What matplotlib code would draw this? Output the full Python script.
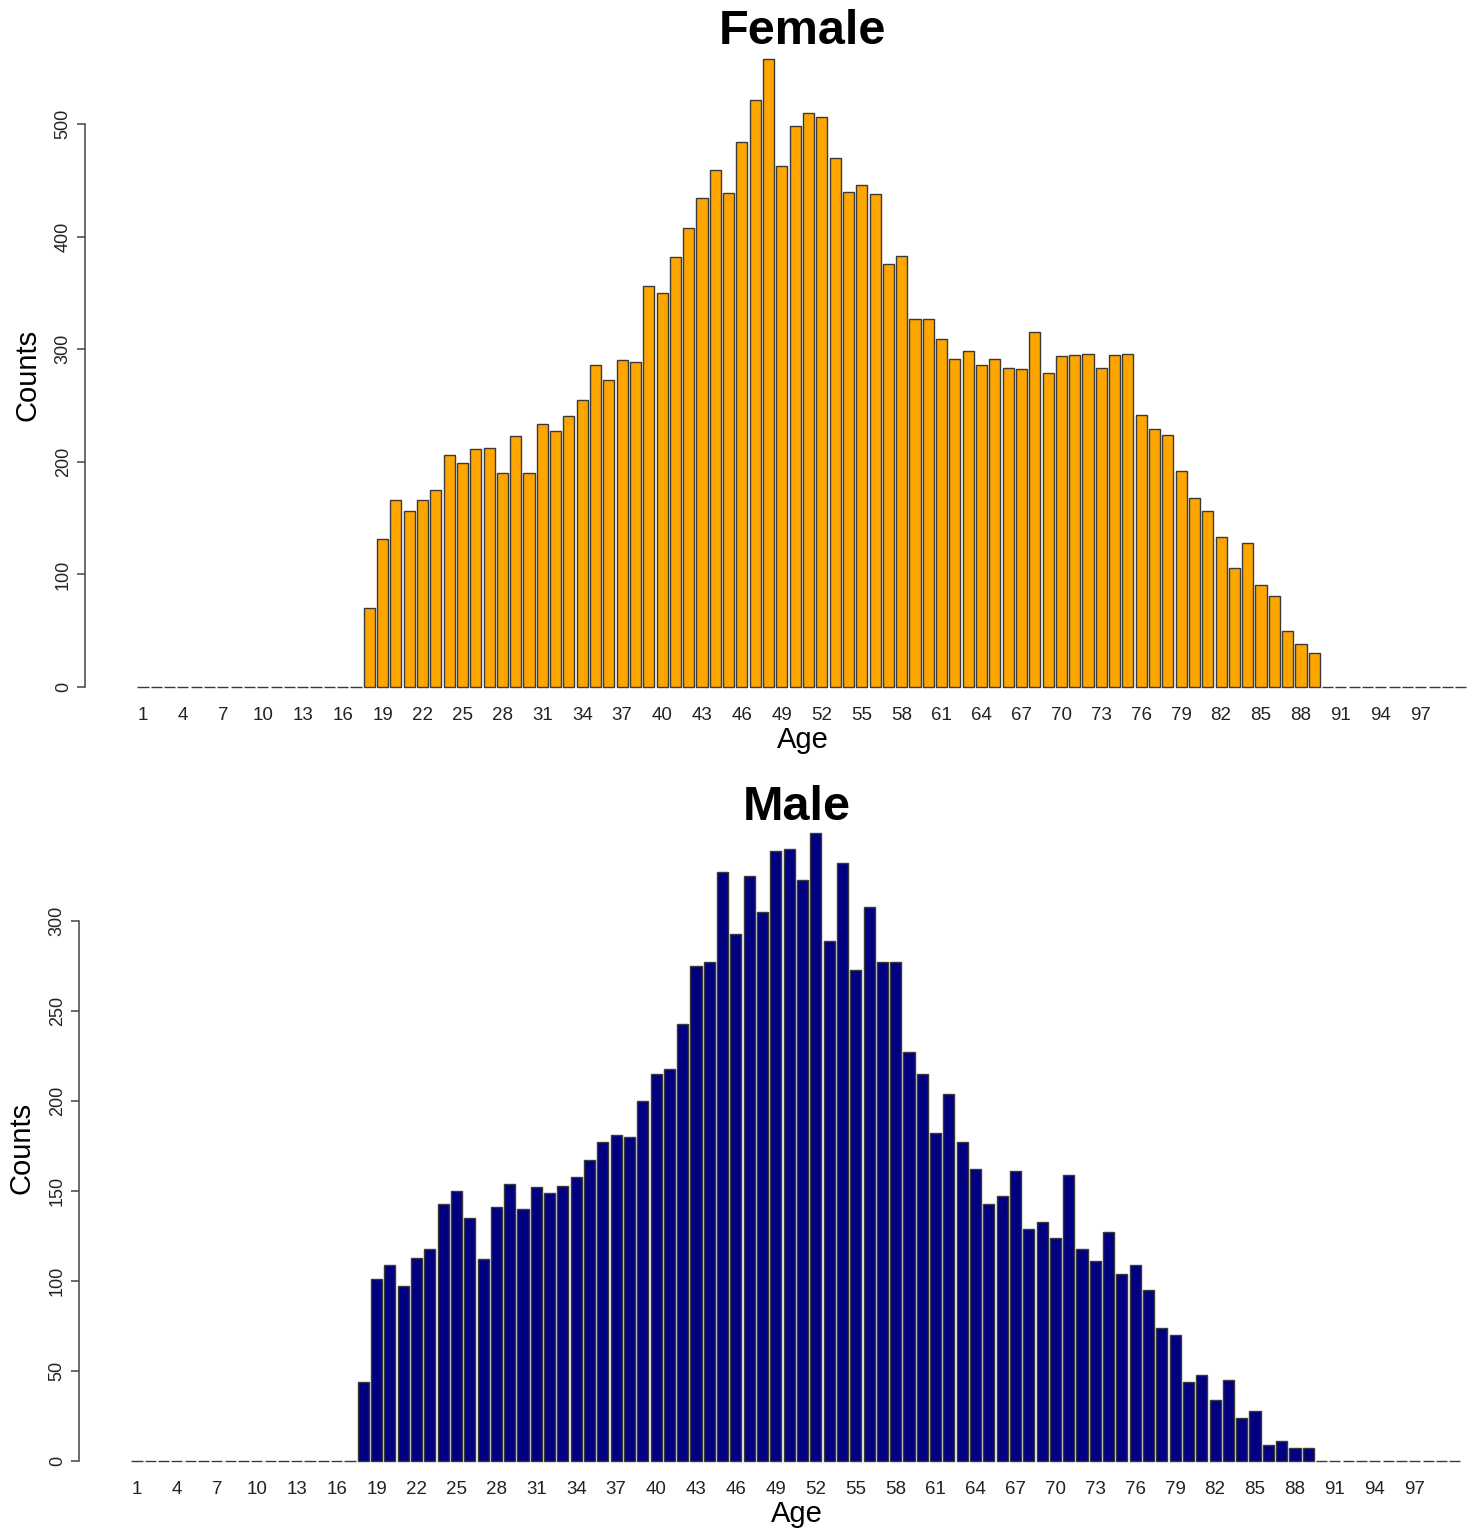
import matplotlib
matplotlib.use("Agg")
import matplotlib.pyplot as plt
import numpy as np

plt.rcParams['font.family'] = ['Liberation Sans', 'DejaVu Sans']

# ---- data ----
ages = list(range(1, 101))
first_age = 18
female_counts = [70, 131, 166, 156, 166, 175, 206, 199, 211, 212,
                 190, 223, 190, 234, 227, 241, 255, 286, 273, 290,
                 289, 356, 350, 382, 408, 434, 459, 439, 484, 521,
                 558, 463, 498, 510, 506, 470, 440, 446, 438, 376,
                 383, 327, 327, 309, 291, 298, 286, 291, 283, 282,
                 315, 279, 294, 295, 296, 283, 295, 296, 242, 229,
                 224, 192, 168, 156, 133, 106, 128, 91, 81, 50,
                 38, 30]
male_counts = [44, 101, 109, 97, 113, 118, 143, 150, 135, 112,
               141, 154, 140, 152, 149, 153, 158, 167, 177, 181,
               180, 200, 215, 218, 243, 275, 277, 327, 293, 325,
               305, 339, 340, 323, 349, 289, 332, 273, 308, 277,
               277, 227, 215, 182, 204, 177, 162, 143, 147, 161,
               129, 133, 124, 159, 118, 111, 127, 104, 109, 95,
               74, 70, 44, 48, 34, 45, 24, 28, 9, 11,
               7, 7]
xtick_ages = list(range(1, 100, 3))
female_yticks = [0, 100, 200, 300, 400, 500]
male_yticks = [0, 50, 100, 150, 200, 250, 300]


def full_series(counts):
    vals = np.zeros(len(ages))
    vals[first_age - 1:first_age - 1 + len(counts)] = counts
    return vals


W, H = 1473, 1532
fig = plt.figure(figsize=(W / 100, H / 100), dpi=100)


def rect(left, top, width, bottom):
    return [left / W, 1 - bottom / H, width / W, (bottom - top) / H]


def panel(r, counts, color, yticks, zero_px, px_per_unit, title, title_off):
    ax = fig.add_axes(r)
    top_px = H * (1 - r[1] - r[3])
    bot_px = H * (1 - r[1])
    ax.set_ylim(-(bot_px - zero_px) / px_per_unit, (zero_px - top_px) / px_per_unit)
    ax.set_xlim(1 - 58 / 13.31, 1 + (r[2] * W - 58) / 13.31)
    ax.bar(ages, full_series(counts), width=1 / 1.2, color=color,
           edgecolor='#3a3a3a', linewidth=1.0)
    for s in ['top', 'right', 'bottom']:
        ax.spines[s].set_visible(False)
    ax.spines['left'].set_bounds(yticks[0], yticks[-1])
    ax.spines['left'].set_color('#444444')
    ax.spines['left'].set_linewidth(1.1)
    ax.set_yticks(yticks)
    ax.set_yticklabels([str(v) for v in yticks], rotation=90, va='center',
                       fontsize=13, color='#222222')
    ax.tick_params(axis='y', length=6, width=1.1, color='#444444', pad=3.5)
    ax.set_xticks(xtick_ages)
    ax.set_xticklabels([str(a) for a in xtick_ages], fontsize=13.5, color='#222222')
    ax.tick_params(axis='x', length=0, pad=5)
    h = bot_px - top_px
    ax.text(0.5, 1 + title_off / h, title, transform=ax.transAxes, ha='center',
            va='center', fontsize=35, fontweight='bold')
    ax.text(0.5, -40 / h, 'Age', transform=ax.transAxes, ha='center',
            va='center', fontsize=21)
    return ax


panel(rect(85, 30, 1435, 700), female_counts, '#FFA500', female_yticks,
      687, 1.126, 'Female', -2)
panel(rect(79, 820, 1435, 1474), male_counts, '#000080', male_yticks,
      1461, 1.8, 'Male', 12)

fig.text(28 / W, 1 - 375 / H, 'Counts', rotation=90, ha='center', va='center', fontsize=21)
fig.text(22 / W, 1 - 1148 / H, 'Counts', rotation=90, ha='center', va='center', fontsize=21)

fig.savefig('out.png', dpi=100, facecolor='white')
